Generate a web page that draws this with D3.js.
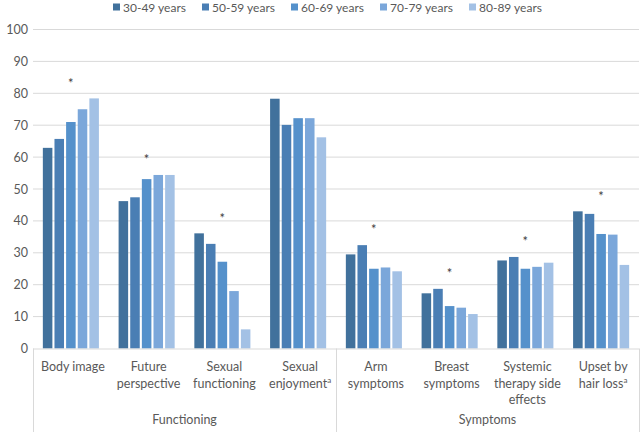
<!DOCTYPE html>
<html>
<head>
<meta charset="utf-8">
<script src="https://cdn.jsdelivr.net/npm/d3@7"></script>
<style>
  html, body { margin: 0; padding: 0; background: #fff; }
  svg { display: block; font-family: Lato, "Open Sans", sans-serif; }
</style>
</head>
<body>
<svg id="chart" width="641" height="432"></svg>
<script>
// ---- data ----
const categories = ["Body image", "Future perspective", "Sexual functioning", "Sexual enjoyment",
                    "Arm symptoms", "Breast symptoms", "Systemic therapy side effects", "Upset by hair loss"];
// label lines for each category (superscript a marked separately)
const categoryLines = [["Body image"], ["Future", "perspective"], ["Sexual", "functioning"], ["Sexual", "enjoyment"],
                       ["Arm", "symptoms"], ["Breast", "symptoms"], ["Systemic", "therapy side", "effects"], ["Upset by", "hair loss"]];
const superA = [false, false, false, true, false, false, false, true];
const groups = ["Functioning", "Symptoms"];
const ageGroups = ["30-49 years", "50-59 years", "60-69 years", "70-79 years", "80-89 years"];
const s3049 = [62.9, 46.2, 36.1, 78.3, 29.5, 17.3, 27.6, 43.0];
const s5059 = [65.7, 47.4, 32.8, 70.1, 32.4, 18.7, 28.7, 42.2];
const s6069 = [71.0, 53.1, 27.2, 72.2, 25.0, 13.3, 25.0, 35.9];
const s7079 = [75.0, 54.4, 18.0, 72.2, 25.4, 12.8, 25.6, 35.7];
const s8089 = [78.4, 54.4, 6.0, 66.2, 24.2, 10.8, 26.9, 26.2];
const series = [s3049, s5059, s6069, s7079, s8089];
// significance asterisk heights (null = none)
const asterisk = [84, 60, 41.6, null, 38, 24.3, 34.3, 48.5];
const yTicks = [0, 10, 20, 30, 40, 50, 60, 70, 80, 90, 100];
const colors = ["#41719C", "#4A7EB4", "#5591CB", "#7BA7DA", "#A3C1E5"];

(function () {
// ---- layout ----
const svg = d3.select("#chart");
const pLeft = 33, pRight = 639, pTop = 29.5, pBottom = 348.5;
const textColor = "#595959";

const x0 = d3.scaleBand().domain(categories).range([pLeft, pRight]).paddingInner(0.26).paddingOuter(0.13);
const x1 = d3.scaleBand().domain(ageGroups).range([0, x0.bandwidth()]).paddingInner(0.18).paddingOuter(0);
const y = d3.scaleLinear().domain([0, 100]).range([pBottom, pTop]);

// gridlines
svg.append("g").selectAll("line").data(yTicks.filter(t => t > 0)).join("line")
  .attr("x1", pLeft).attr("x2", pRight)
  .attr("y1", d => y(d)).attr("y2", d => y(d))
  .attr("stroke", "#d9d9d9").attr("stroke-width", 1);

// y axis labels
const yAxis = d3.axisLeft(y).tickValues(yTicks).tickSize(0).tickPadding(0);
const gy = svg.append("g").attr("transform", `translate(${pLeft - 5},0)`).call(yAxis);
gy.select(".domain").remove();
gy.selectAll("text").attr("fill", textColor).attr("font-size", 12.5).attr("font-family", "Lato, sans-serif");

// bars
const gBars = svg.append("g");
categories.forEach((c, ci) => {
  const g = gBars.append("g").attr("transform", `translate(${x0(c)},0)`);
  g.selectAll("rect").data(ageGroups.map((a, si) => ({a, v: series[si][ci], si}))).join("rect")
    .attr("x", d => x1(d.a)).attr("width", x1.bandwidth())
    .attr("y", d => y(d.v)).attr("height", d => y(0) - y(d.v))
    .attr("fill", d => colors[d.si]);
});

// asterisks
svg.append("g").selectAll("text").data(categories.map((c, i) => ({c, v: asterisk[i]})).filter(d => d.v !== null))
  .join("text")
  .attr("x", d => x0(d.c) + x0.bandwidth() / 2)
  .attr("y", d => y(d.v) + 7)
  .attr("text-anchor", "middle").attr("font-size", 13).attr("fill", "#404040")
  .text("*");

// category axis lines
svg.append("line").attr("x1", pLeft).attr("x2", pRight).attr("y1", pBottom + 0.5).attr("y2", pBottom + 0.5)
  .attr("stroke", "#d9d9d9");
const step = x0.step();
const boundaries = [pLeft, pLeft + 4 * step, pRight];
svg.append("g").selectAll("line").data(boundaries).join("line")
  .attr("x1", d => Math.round(d) + 0.5).attr("x2", d => Math.round(d) + 0.5).attr("y1", pBottom).attr("y2", 432)
  .attr("stroke", "#d9d9d9");

// category labels
const gLab = svg.append("g").attr("font-size", 12.5).attr("fill", textColor).attr("text-anchor", "middle");
categories.forEach((c, ci) => {
  const cx = x0(c) + x0.bandwidth() / 2 + 2;
  const lines = categoryLines[ci];
  lines.forEach((ln, li) => {
    const t = gLab.append("text").attr("x", cx).attr("y", 371 + li * 16.5);
    t.append("tspan").text(ln);
    if (superA[ci] && li === lines.length - 1) {
      t.append("tspan").attr("font-size", 8).attr("dy", -5).text("a");
    }
  });
});

// group labels
const groupCenters = [(pLeft + pLeft + 4 * step) / 2, (pLeft + 4 * step + pRight) / 2];
svg.append("g").selectAll("text").data(groups).join("text")
  .attr("x", (d, i) => groupCenters[i]).attr("y", 424)
  .attr("text-anchor", "middle").attr("font-size", 12.5).attr("fill", textColor)
  .text(d => d);

// legend
const legend = svg.append("g");
ageGroups.forEach((a, i) => {
  const lx = 113 + i * 89;
  legend.append("rect").attr("x", lx).attr("y", 3.5).attr("width", 7).attr("height", 7).attr("fill", colors[i]);
  legend.append("text").attr("x", lx + 10).attr("y", 11.5).attr("font-size", 12).attr("fill", textColor).text(a);
});
})();
</script>
</body>
</html>
